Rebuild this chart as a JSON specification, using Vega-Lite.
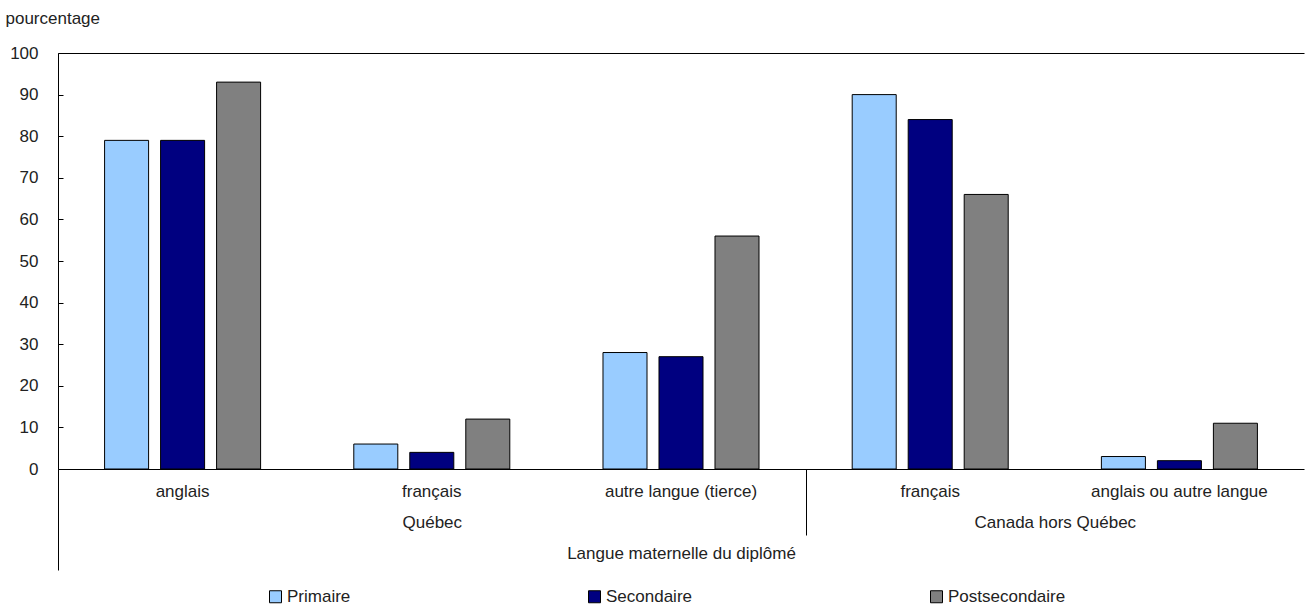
{
  "$schema": "https://vega.github.io/schema/vega-lite/v6.json",
  "autosize": "none",
  "width": 1246,
  "height": 416,
  "padding": {"left": 58, "top": 53, "right": 1, "bottom": 138},
  "background": "white",
  "config": {
    "view": {"stroke": null},
    "font": "Liberation Sans",
    "axis": {"labelFont": "Liberation Sans", "titleFont": "Liberation Sans", "labelColor": "#222222", "titleColor": "#222222", "domainColor": "black", "tickColor": "black", "labelFontSize": 17, "titleFontSize": 17, "titleFontWeight": "normal", "grid": false},
    "legend": {"labelFont": "Liberation Sans", "labelFontSize": 17, "labelColor": "#222222"}
  },
  "layer": [
    {
      "data": {"values": [
        {"cat": "Q1", "niveau": "Primaire", "pct": 79},
        {"cat": "Q1", "niveau": "Secondaire", "pct": 79},
        {"cat": "Q1", "niveau": "Postsecondaire", "pct": 93},
        {"cat": "Q2", "niveau": "Primaire", "pct": 6},
        {"cat": "Q2", "niveau": "Secondaire", "pct": 4},
        {"cat": "Q2", "niveau": "Postsecondaire", "pct": 12},
        {"cat": "Q3", "niveau": "Primaire", "pct": 28},
        {"cat": "Q3", "niveau": "Secondaire", "pct": 27},
        {"cat": "Q3", "niveau": "Postsecondaire", "pct": 56},
        {"cat": "C1", "niveau": "Primaire", "pct": 90},
        {"cat": "C1", "niveau": "Secondaire", "pct": 84},
        {"cat": "C1", "niveau": "Postsecondaire", "pct": 66},
        {"cat": "C2", "niveau": "Primaire", "pct": 3},
        {"cat": "C2", "niveau": "Secondaire", "pct": 2},
        {"cat": "C2", "niveau": "Postsecondaire", "pct": 11}
      ]},
      "mark": {"type": "bar", "stroke": "black", "strokeWidth": 1},
      "encoding": {
        "x": {"field": "cat", "type": "nominal", "sort": ["Q1", "Q2", "Q3", "C1", "C2"],
              "scale": {"paddingInner": 0, "paddingOuter": 0},
              "axis": {"orient": "bottom", "title": null, "ticks": false, "labelAngle": 0, "labelPadding": 14, "domainColor": "black",
                       "labelExpr": "datum.value == 'Q1' ? 'anglais' : datum.value == 'Q2' ? 'français' : datum.value == 'Q3' ? 'autre langue (tierce)' : datum.value == 'C1' ? 'français' : 'anglais ou autre langue'"}},
        "xOffset": {"field": "niveau", "type": "nominal", "sort": ["Primaire", "Secondaire", "Postsecondaire"],
                    "scale": {"paddingInner": 0.214, "paddingOuter": 0.832}},
        "y": {"field": "pct", "type": "quantitative",
              "scale": {"domain": [0, 100], "nice": false},
              "axis": {"values": [0, 10, 20, 30, 40, 50, 60, 70, 80, 90, 100], "tickSize": -5, "labelPadding": 25,
                       "title": "pourcentage", "titleAngle": 0, "titleAlign": "left", "titleBaseline": "middle", "titleX": -53, "titleY": -35}},
        "color": {"field": "niveau", "type": "nominal", "sort": ["Primaire", "Secondaire", "Postsecondaire"],
                  "scale": {"domain": ["Primaire", "Secondaire", "Postsecondaire"], "range": ["#99CCFF", "#000080", "#808080"]},
                  "legend": {"title": null, "orient": "none", "direction": "horizontal", "legendX": 209, "legendY": 535,
                             "symbolType": "square", "symbolSize": 144, "symbolStrokeColor": "black", "symbolStrokeWidth": 1,
                             "symbolOpacity": 1, "columnPadding": 235, "labelOffset": 3, "padding": 0}}
      }
    },
    {
      "data": {"values": [{"p": 0}, {"p": 5}]},
      "mark": {"type": "point", "opacity": 0},
      "encoding": {
        "x": {"field": "p", "type": "quantitative", "scale": {"domain": [0, 5], "nice": false, "zero": false},
              "axis": {"orient": "bottom", "values": [1.5, 4], "ticks": false, "domain": false, "labelPadding": 45,
                       "labelExpr": "datum.value == 1.5 ? 'Québec' : 'Canada hors Québec'",
                       "title": "Langue maternelle du diplômé", "titlePadding": 15}}
      }
    },
    {
      "data": {"values": [{"p": 0}, {"p": 5}]},
      "mark": {"type": "point", "opacity": 0},
      "encoding": {
        "x": {"field": "p", "type": "quantitative", "scale": {"domain": [0, 5], "nice": false, "zero": false},
              "axis": {"orient": "bottom", "values": [3], "ticks": true, "tickSize": 66, "domain": false, "labels": false, "title": null}}
      }
    },
    {
      "data": {"values": [{"p": 0}, {"p": 5}]},
      "mark": {"type": "point", "opacity": 0},
      "encoding": {
        "x": {"field": "p", "type": "quantitative", "scale": {"domain": [0, 5], "nice": false, "zero": false},
              "axis": {"orient": "bottom", "values": [0], "ticks": true, "tickSize": 101, "domain": false, "labels": false, "title": null}}
      }
    },
    {
      "data": {"values": [{"p": 0}, {"p": 5}]},
      "mark": {"type": "point", "opacity": 0},
      "encoding": {
        "x": {"field": "p", "type": "quantitative", "scale": {"domain": [0, 5], "nice": false, "zero": false},
              "axis": {"orient": "top", "values": [], "ticks": false, "domain": true, "labels": false, "title": null}}
      }
    }
  ],
  "resolve": {"scale": {"x": "independent", "xOffset": "independent"}}
}
